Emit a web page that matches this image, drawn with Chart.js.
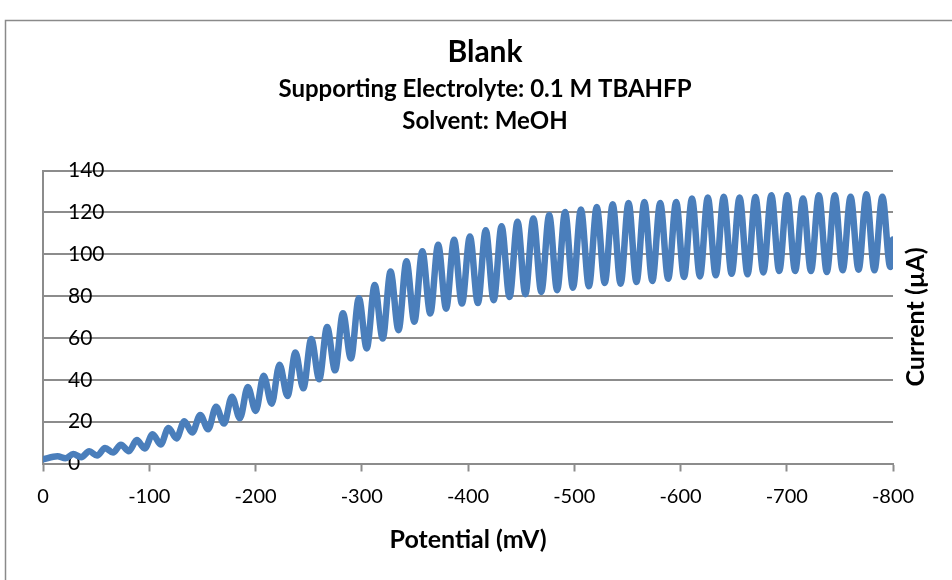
<!DOCTYPE html>
<html><head><meta charset="utf-8">
<script src="https://cdn.jsdelivr.net/npm/chart.js@4.4.1/dist/chart.umd.min.js"></script>
<style>html,body{margin:0;padding:0;background:#fff;}canvas{display:block;}</style>
</head><body>
<canvas id="c" width="952" height="580"></canvas>
<script>
const titleText = "Blank";
const subtitleLines = ["Supporting Electrolyte: 0.1 M TBAHFP", "Solvent: MeOH"];
const xAxisTitle = "Potential (mV)";
const yAxisTitle = "Current (µA)";
const xTicks = [0, -100, -200, -300, -400, -500, -600, -700, -800];
const yTicks = [0, 20, 40, 60, 80, 100, 120, 140];

const startPoint = [0, 2.0];
const endPoint = [-800, 107];
const peakPotential = [-13.6,-28.5,-43.5,-58.4,-73.3,-88.3,-103.2,-118.1,-133.0,-148.0,-162.9,-177.8,-192.8,-207.7,-222.6,-237.6,-252.5,-267.4,-282.3,-297.3,-312.2,-327.1,-342.1,-357.0,-371.9,-386.9,-401.8,-416.7,-431.6,-446.6,-461.5,-476.4,-491.4,-506.3,-521.2,-536.2,-551.1,-566.0,-580.9,-595.9,-610.8,-625.7,-640.7,-655.6,-670.5,-685.5,-700.4,-715.3,-730.2,-745.2,-760.1,-775.0,-790.0];
const peakCurrent = [3.5,4.5,5.8,7.4,9.0,11.2,14.0,17.0,20.2,23.2,27.1,31.9,36.6,41.9,47.2,53.0,59.5,65.2,71.8,79.0,85.3,91.7,96.6,101.4,104.5,106.9,108.5,111.5,113.4,115.5,117.1,118.7,120.2,121.4,122.6,123.9,124.5,125.0,124.5,125.0,126.6,127.1,127.4,127.1,127.3,128.2,128.2,126.6,128.2,128.2,127.4,128.7,127.4];
const troughPotential = [-21.1,-36.0,-50.9,-65.9,-80.8,-95.7,-110.7,-125.6,-140.5,-155.4,-170.4,-185.3,-200.2,-215.2,-230.1,-245.0,-260.0,-274.9,-289.8,-304.7,-319.7,-334.6,-349.5,-364.5,-379.4,-394.3,-409.3,-424.2,-439.1,-454.0,-469.0,-483.9,-498.8,-513.8,-528.7,-543.6,-558.6,-573.5,-588.4,-603.3,-618.3,-633.2,-648.1,-663.1,-678.0,-692.9,-707.9,-722.8,-737.7,-752.6,-767.6,-782.5,-797.4];
const troughCurrent = [2.5,3.0,3.8,5.2,5.9,7.2,9.1,12.0,14.8,16.4,19.1,21.6,25.1,28.6,32.3,35.9,40.2,44.5,50.2,55.0,59.7,63.7,67.7,71.7,74.0,76.4,76.7,78.0,79.6,80.9,82.0,82.8,84.0,84.7,86.3,85.9,86.7,87.2,88.3,89.1,89.4,89.9,90.7,90.4,91.3,92.0,92.0,92.0,91.5,92.3,92.6,92.3,93.9];

const points = [{x: startPoint[0], y: startPoint[1]}];
for (let i = 0; i < peakPotential.length; i++) {
  points.push({x: peakPotential[i], y: peakCurrent[i]});
  points.push({x: troughPotential[i], y: troughCurrent[i]});
}
points.push({x: endPoint[0], y: endPoint[1]});

const GRAY = '#8c8c8c';
const FONT = 'Lato';

const frame = {
  id: 'frame',
  beforeDraw(chart) {
    const ctx = chart.ctx;
    ctx.save();
    ctx.fillStyle = '#fff';
    ctx.fillRect(0, 0, chart.width, chart.height);
    ctx.strokeStyle = '#8a8a8a';
    ctx.lineWidth = 1.5;
    ctx.strokeRect(5.5, 20.5, chart.width + 20, chart.height + 20);
    ctx.restore();
  },
  afterDraw(chart) {
    const ctx = chart.ctx;
    const a = chart.chartArea;
    ctx.save();
    ctx.fillStyle = '#000';
    ctx.textAlign = 'center';
    ctx.textBaseline = 'middle';
    const cx = 485;
    ctx.font = 'bold 30px ' + FONT;
    ctx.fillText(titleText, cx, 52);
    ctx.font = 'bold 24px ' + FONT;
    subtitleLines.forEach((t, i) => ctx.fillText(t, cx, 89 + i * 32));
    ctx.translate(a.right + 23, (a.top + a.bottom) / 2);
    ctx.rotate(-Math.PI / 2);
    ctx.font = 'bold 25px ' + FONT;
    ctx.fillText(yAxisTitle, 0, 0);
    ctx.restore();
  }
};

function build() {
  new Chart(document.getElementById('c'), {
    type: 'line',
    data: { datasets: [{
      data: points,
      borderColor: '#4a7ebb',
      borderWidth: 6.5,
      pointRadius: 0,
      fill: false,
      cubicInterpolationMode: 'monotone',
      borderCapStyle: 'round',
      borderJoinStyle: 'round'
    }]},
    options: {
      responsive: false,
      animation: false,
      devicePixelRatio: 1,
      layout: { padding: { left: 43, right: 59, top: 170.5, bottom: 20 } },
      plugins: {
        legend: { display: false },
        tooltip: { enabled: false },
        title: { display: false },
        subtitle: { display: false }
      },
      scales: {
        x: {
          type: 'linear', reverse: true, min: -800, max: 0,
          afterBuildTicks: s => { s.ticks = xTicks.map(v => ({ value: v })); },
          afterFit: s => { s.height = 96.5; },
          ticks: { color: '#000', font: { family: FONT, size: 20 }, padding: 13.5, maxRotation: 0, autoSkip: false },
          grid: { display: true, drawOnChartArea: false, drawTicks: true, tickLength: 8, tickColor: GRAY, tickWidth: 2 },
          border: { display: true, color: GRAY, width: 2 },
          title: { display: true, text: xAxisTitle, color: '#000',
            font: { family: FONT, size: 25, weight: 'bold', lineHeight: 1.2 },
            padding: { top: 0, bottom: 5 } }
        },
        y: {
          type: 'linear', min: 0, max: 140,
          afterBuildTicks: s => { s.ticks = yTicks.map(v => ({ value: v })); },
          afterFit: s => { s.width = 0; },
          ticks: { mirror: true, padding: 25, color: '#000', font: { family: FONT, size: 21 } },
          grid: { color: GRAY, lineWidth: 2, drawTicks: false },
          border: { display: true, color: GRAY, width: 2 }
        }
      }
    },
    plugins: [frame]
  });
}
if (document.fonts && document.fonts.load) {
  Promise.all([document.fonts.load('20px Lato'), document.fonts.load('bold 20px Lato')]).then(build, build);
} else { build(); }
</script>
</body></html>
